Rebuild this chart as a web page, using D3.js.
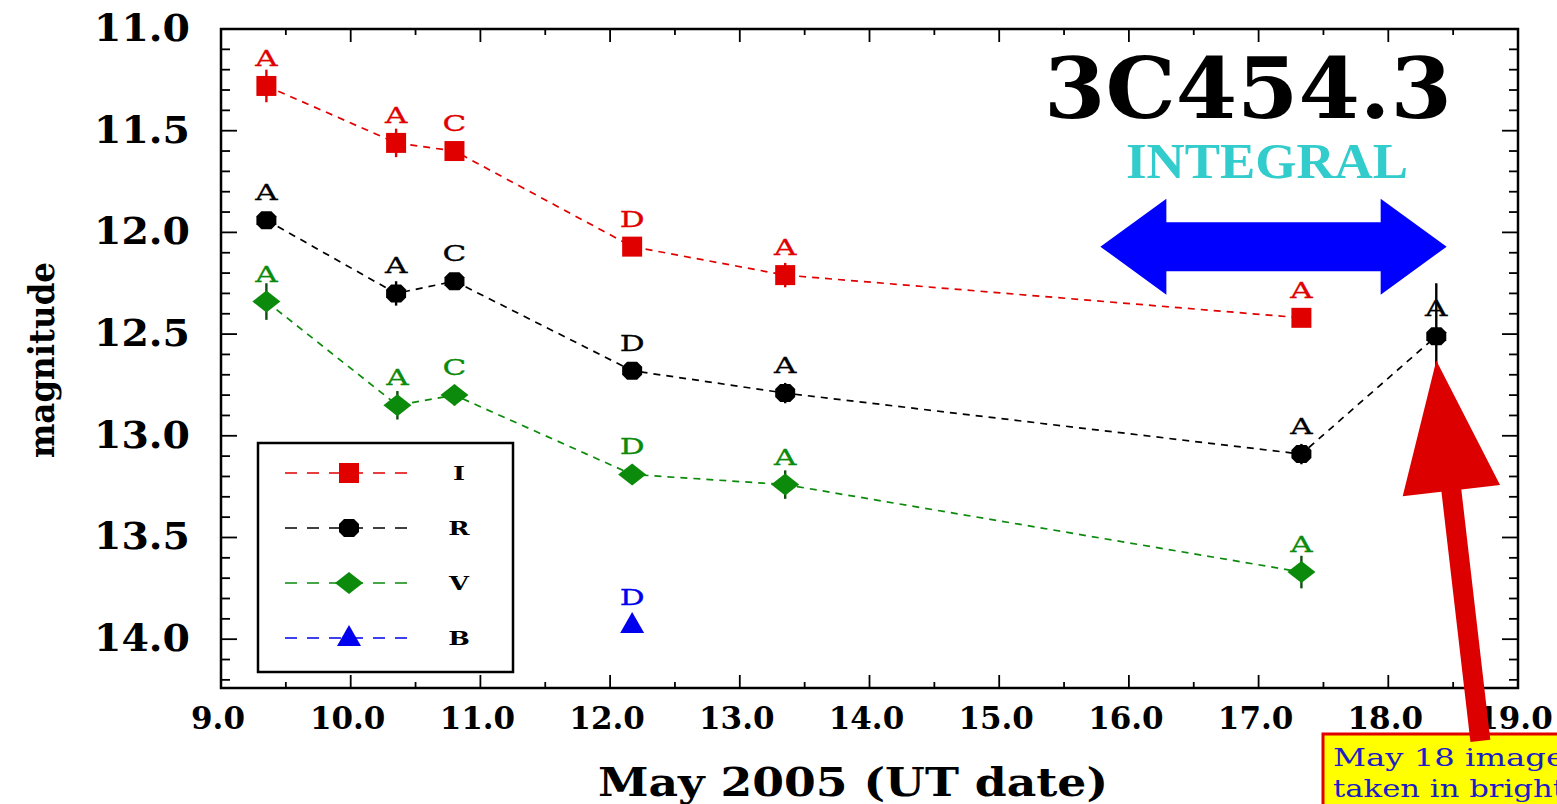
<!DOCTYPE html>
<html>
<head>
<meta charset="utf-8">
<script src="https://cdn.jsdelivr.net/npm/d3@7"></script>
<style>
  html, body { margin: 0; padding: 0; background: #fff; overflow: hidden; }
  svg { display: block; }
</style>
</head>
<body>
<svg id="chart" width="1557" height="804"></svg>
<script>
// ---- observations (UT day in May 2005, magnitude, error, observing site) ----
const dateI = [9.35, 10.35, 10.80, 12.17, 13.35, 17.33];
const magI  = [11.28, 11.56, 11.60, 12.07, 12.21, 12.42];
const errI  = [0.08, 0.07, 0, 0, 0.06, 0];
const siteI = ["A", "A", "C", "D", "A", "A"];

const dateR = [9.35, 10.35, 10.80, 12.17, 13.35, 17.33, 18.37];
const magR  = [11.94, 12.30, 12.24, 12.68, 12.79, 13.09, 12.51];
const errR  = [0, 0.06, 0, 0, 0.05, 0.05, 0.26];
const siteR = ["A", "A", "C", "D", "A", "A", "A"];

const dateV = [9.35, 10.36, 10.80, 12.17, 13.35, 17.33];
const magV  = [12.34, 12.85, 12.80, 13.19, 13.24, 13.67];
const errV  = [0.09, 0.07, 0.05, 0, 0.07, 0.08];
const siteV = ["A", "A", "C", "D", "A", "A"];

const dateB = [12.17];
const magB  = [13.93];
const errB  = [0];
const siteB = ["D"];

const bandNames = ["I", "R", "V", "B"];
const xTickValues = [9, 10, 11, 12, 13, 14, 15, 16, 17, 18, 19];
const yTickValues = [11.0, 11.5, 12.0, 12.5, 13.0, 13.5, 14.0];

// INTEGRAL observing window and May 18 pointer (in data units)
const integralWindow = [15.78, 18.45];
const integralMag = 12.07;
const pointerTip = [18.37, 12.63];
const pointerTail = [18.71, 14.50];

// ---- layout ----
const svg = d3.select("#chart");
const frame = { left: 221, right: 1518, top: 29, bottom: 688 };

const x = d3.scaleLinear().domain([9, 19]).range([frame.left, frame.right]);
const y = d3.scaleLinear().domain([11.0, 14.24]).range([frame.top, frame.bottom]);

const colors = { I: "#e00000", R: "#000000", V: "#0b8a0b", B: "#0000ee" };
const barColors = { I: "#e00000", R: "#000000", V: "#124d12", B: "#0000ee" };

const series = [
  { band: "I", date: dateI, mag: magI, err: errI, site: siteI, shape: "square" },
  { band: "R", date: dateR, mag: magR, err: errR, site: siteR, shape: "octagon" },
  { band: "V", date: dateV, mag: magV, err: errV, site: siteV, shape: "diamond" },
  { band: "B", date: dateB, mag: magB, err: errB, site: siteB, shape: "triangle" }
];

function markerPath(shape) {
  switch (shape) {
    case "square":   return "M-10,-10H10V10H-10Z";
    case "octagon":  return "M-5,-9L5,-9L10,-4L10,4L5,9L-5,9L-10,4L-10,-4Z";
    case "diamond":  return "M0,-11L14,0L0,11L-14,0Z";
    case "triangle": return "M0,-13L12,8L-12,8Z";
  }
}

// ---- frame and ticks (all pointing inward) ----
const axisG = svg.append("g");
axisG.append("rect")
  .attr("x", frame.left).attr("y", frame.top)
  .attr("width", frame.right - frame.left).attr("height", frame.bottom - frame.top)
  .attr("fill", "none").attr("stroke", "#000").attr("stroke-width", 2.5);

const xMinor = d3.range(9, 19.01, 0.5);
const yMinor = d3.range(11.0, 14.21, 0.1);

xMinor.forEach(v => {
  const major = Math.abs(v - Math.round(v)) < 1e-6;
  const len = major ? 13 : 6;
  axisG.append("line").attr("x1", x(v)).attr("x2", x(v))
    .attr("y1", frame.bottom).attr("y2", frame.bottom - len)
    .attr("stroke", "#000").attr("stroke-width", 1.8);
  axisG.append("line").attr("x1", x(v)).attr("x2", x(v))
    .attr("y1", frame.top).attr("y2", frame.top + len)
    .attr("stroke", "#000").attr("stroke-width", 1.8);
});
yMinor.forEach(v => {
  const major = Math.abs(v * 2 - Math.round(v * 2)) < 1e-6;
  const len = major ? 16 : 9;
  axisG.append("line").attr("y1", y(v)).attr("y2", y(v))
    .attr("x1", frame.left).attr("x2", frame.left + len)
    .attr("stroke", "#000").attr("stroke-width", 1.8);
  axisG.append("line").attr("y1", y(v)).attr("y2", y(v))
    .attr("x1", frame.right).attr("x2", frame.right - len)
    .attr("stroke", "#000").attr("stroke-width", 1.8);
});

// tick labels
axisG.selectAll(".xlab").data(xTickValues).enter().append("text")
  .attr("x", d => x(d) - 3).attr("y", 729)
  .attr("text-anchor", "middle")
  .attr("font-family", "DejaVu Serif").attr("font-weight", "bold")
  .attr("font-size", 31)
  .text(d => d3.format(".1f")(d));

axisG.selectAll(".ylab").data(yTickValues).enter().append("text")
  .attr("x", 190).attr("y", d => y(d) + 12)
  .attr("text-anchor", "end")
  .attr("font-family", "DejaVu Serif").attr("font-weight", "bold")
  .attr("font-size", 37)
  .attr("textLength", 96).attr("lengthAdjust", "spacingAndGlyphs")
  .text(d => d3.format(".1f")(d));

// axis titles
svg.append("text")
  .attr("x", 853).attr("y", 796)
  .attr("text-anchor", "middle")
  .attr("font-family", "DejaVu Serif").attr("font-weight", "bold")
  .attr("font-size", 39)
  .attr("textLength", 510).attr("lengthAdjust", "spacingAndGlyphs")
  .text("May 2005 (UT date)");

svg.append("text")
  .attr("transform", "translate(54,360) rotate(-90)")
  .attr("text-anchor", "middle")
  .attr("font-family", "DejaVu Serif").attr("font-weight", "bold")
  .attr("font-size", 36)
  .attr("textLength", 196).attr("lengthAdjust", "spacingAndGlyphs")
  .text("magnitude");

// ---- data ----
const plot = svg.append("g");
const line = d3.line().x(d => x(d[0])).y(d => y(d[1]));

series.forEach(s => {
  const pts = s.date.map((d, i) => [d, s.mag[i], s.err[i], s.site[i]]);
  if (pts.length > 1) {
    plot.append("path").datum(pts).attr("d", line)
      .attr("fill", "none").attr("stroke", colors[s.band])
      .attr("stroke-width", 1.7).attr("stroke-dasharray", "7,6");
  }
  const g = plot.append("g");
  pts.filter(p => p[2] > 0).forEach(p => {
    g.append("line").attr("x1", x(p[0])).attr("x2", x(p[0]))
      .attr("y1", y(p[1] - p[2])).attr("y2", y(p[1] + p[2]))
      .attr("stroke", barColors[s.band]).attr("stroke-width", 2.4);
  });
  g.selectAll("path").data(pts).enter().append("path")
    .attr("d", markerPath(s.shape))
    .attr("transform", p => `translate(${x(p[0])},${y(p[1])})`)
    .attr("fill", colors[s.band]);
  // observing-site letters, drawn in a wide face
  g.selectAll("text").data(pts).enter().append("text")
    .attr("transform", p => `translate(${x(p[0])},${y(p[1]) - 20}) scale(1.35,1)`)
    .attr("text-anchor", "middle")
    .attr("font-family", "DejaVu Serif").attr("font-size", 23)
    .attr("stroke", colors[s.band]).attr("stroke-width", 0.3)
    .attr("fill", colors[s.band])
    .text(p => p[3]);
});

// ---- legend ----
const leg = svg.append("g");
leg.append("rect").attr("x", 258).attr("y", 443).attr("width", 255).attr("height", 229)
  .attr("fill", "#fff").attr("stroke", "#000").attr("stroke-width", 2.5);
series.forEach((s, i) => {
  const ly = 473 + i * 55;
  leg.append("line").attr("x1", 285).attr("x2", 413).attr("y1", ly).attr("y2", ly)
    .attr("stroke", colors[s.band]).attr("stroke-width", 1.7)
    .attr("stroke-dasharray", "12,10");
  leg.append("path").attr("d", markerPath(s.shape))
    .attr("transform", `translate(349,${ly})`).attr("fill", colors[s.band]);
  leg.append("text")
    .attr("transform", `translate(459,${ly + 7}) scale(1.35,1)`)
    .attr("text-anchor", "middle")
    .attr("font-family", "DejaVu Serif").attr("font-weight", "bold")
    .attr("font-size", 19)
    .text(bandNames[i]);
});

// ---- annotations ----
svg.append("text")
  .attr("x", 1248).attr("y", 118)
  .attr("text-anchor", "middle")
  .attr("font-family", "DejaVu Serif").attr("font-weight", "bold")
  .attr("font-size", 84)
  .attr("textLength", 408).attr("lengthAdjust", "spacingAndGlyphs")
  .text("3C454.3");

svg.append("text")
  .attr("x", 1267).attr("y", 178)
  .attr("text-anchor", "middle")
  .attr("font-family", "Liberation Serif").attr("font-weight", "bold")
  .attr("font-size", 50)
  .attr("textLength", 282).attr("lengthAdjust", "spacingAndGlyphs")
  .attr("fill", "#33cccc")
  .text("INTEGRAL");

// double-headed arrow spanning the INTEGRAL window
(function () {
  const x0 = x(integralWindow[0]), x1 = x(integralWindow[1]), cy = y(integralMag);
  const head = 66, shaft = 24.5, hh = 48;
  const pts = [
    [x0, cy], [x0 + head, cy - hh], [x0 + head, cy - shaft], [x1 - head, cy - shaft],
    [x1 - head, cy - hh], [x1, cy], [x1 - head, cy + hh], [x1 - head, cy + shaft],
    [x0 + head, cy + shaft], [x0 + head, cy + hh]
  ];
  svg.append("path").attr("d", "M" + pts.map(p => p.join(",")).join("L") + "Z")
    .attr("fill", "#0000ff");
})();

// note box
const note = svg.append("g");
note.append("rect").attr("x", 1323).attr("y", 734).attr("width", 260).attr("height", 90)
  .attr("fill", "#ffff00").attr("stroke", "#e00000").attr("stroke-width", 3);
note.append("text").attr("x", 1333).attr("y", 766)
  .attr("font-family", "DejaVu Serif").attr("font-size", 25)
  .attr("textLength", 232).attr("lengthAdjust", "spacingAndGlyphs")
  .attr("fill", "#1c1cc8").text("May 18 image");
note.append("text").attr("x", 1333).attr("y", 797)
  .attr("font-family", "DejaVu Serif").attr("font-size", 25)
  .attr("textLength", 232).attr("lengthAdjust", "spacingAndGlyphs")
  .attr("fill", "#1c1cc8").text("taken in bright");

// red pointer arrow from the note to the May 18 point
(function () {
  const tx = x(pointerTip[0]), ty = y(pointerTip[1]);
  const bx = x(pointerTail[0]), by = y(pointerTail[1]);
  const dx = tx - bx, dy = ty - by, L = Math.hypot(dx, dy);
  const ux = dx / L, uy = dy / L, nx = -uy, ny = ux;
  const headLen = 131, headHalf = 49, shaftHalf = 10;
  const hbX = tx - ux * headLen, hbY = ty - uy * headLen;
  const pts = [
    [bx + nx * shaftHalf, by + ny * shaftHalf],
    [hbX + nx * shaftHalf, hbY + ny * shaftHalf],
    [hbX + nx * headHalf, hbY + ny * headHalf],
    [tx, ty],
    [hbX - nx * headHalf, hbY - ny * headHalf],
    [hbX - nx * shaftHalf, hbY - ny * shaftHalf],
    [bx - nx * shaftHalf, by - ny * shaftHalf]
  ];
  svg.append("path").attr("d", "M" + pts.map(p => p.join(",")).join("L") + "Z")
    .attr("fill", "#dd0000");
})();
</script>
</body>
</html>
